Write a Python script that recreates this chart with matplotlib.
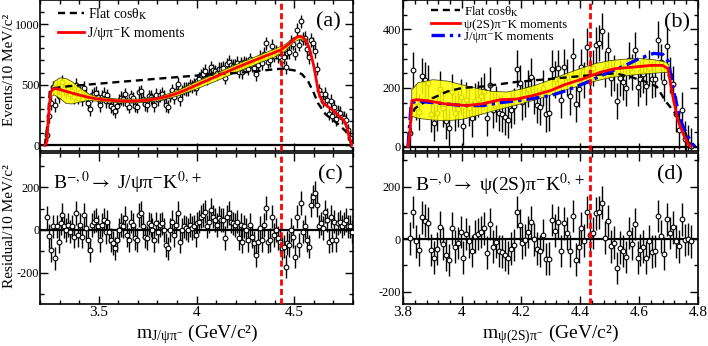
import numpy as np
import matplotlib
matplotlib.use("Agg")
import matplotlib.pyplot as plt
from matplotlib.ticker import MultipleLocator, FuncFormatter
from matplotlib.lines import Line2D

plt.rcParams['font.family'] = ['Liberation Serif', 'DejaVu Serif']
plt.rcParams['mathtext.fontset'] = 'stix'
plt.rcParams['axes.unicode_minus'] = False

# ---------------- data: J/psi pi- K (panels a, c) ----------------
x_a = np.round(3.235 + 0.01 * np.arange(157), 3)
data_a = [89,242,346,478,333,482,407,489,523,465,
          444,462,427,446,395,500,394,436,378,475,
          409,350,299,413,426,431,397,332,400,423,
          362,412,363,323,307,282,320,367,389,382,
          420,342,318,404,388,327,319,437,446,385,
          339,332,404,398,378,333,414,379,413,425,
          398,331,319,410,454,397,448,509,382,444,
          466,465,464,494,487,502,470,531,546,576,
          591,614,551,581,643,618,610,593,632,631,
          638,559,667,690,658,657,656,679,608,676,
          605,683,673,633,709,662,638,589,658,727,
          678,755,840,689,703,819,740,769,737,728,
          704,724,643,765,769,852,837,756,954,829,
          1022,878,885,794,726,868,840,777,632,453,
          421,368,425,374,260,365,244,315,214,277,
          269,231,229,210,124,64,0]
err_a = 55
res_c = [59,-28,-94,16,-133,16,-55,31,70,16,
         0,23,-8,16,-31,78,-23,23,-31,70,
         8,-47,-94,23,39,47,16,-47,23,47,
         -12,39,-8,-47,-62,-86,-47,0,23,16,
         55,-23,-47,39,23,-39,-47,70,78,16,
         -31,-39,31,23,0,-47,31,-8,23,31,
         0,-70,-86,0,39,-23,23,78,-55,0,
         16,8,0,23,8,16,-23,31,39,62,
         70,86,16,39,94,62,47,23,55,47,
         47,-39,62,78,39,31,23,39,-39,23,
         -55,16,0,-47,23,-31,-62,-117,-55,8,
         -47,23,102,-55,-47,62,-23,0,-39,-55,
         -86,-78,-172,-62,-70,0,-31,-125,62,-70,
         125,-8,16,-47,-78,117,156,172,117,16,
         31,8,86,47,-55,62,-47,39,-47,31,
         39,16,31,47,16,16,-8]
err_c = 55

red_a_x = [3.225,3.235,3.245,3.255,3.265,3.28,3.30,3.35,3.40,3.45,3.50,3.55,3.60,3.65,3.70,
           3.75,3.80,3.85,3.90,3.95,4.00,4.05,4.10,4.15,4.20,4.25,4.30,4.35,4.40,4.43,4.45,
           4.48,4.50,4.52,4.54,4.56,4.58,4.60,4.62,4.63,4.65,4.70,4.73,4.75,4.76,4.77,4.78,4.79,4.795]
red_a_y = [0,30,270,440,462,468,460,437,415,395,380,372,367,365,366,
           372,385,403,428,460,497,532,567,602,637,670,703,735,766,786,808,
           845,875,898,895,860,785,650,470,405,345,285,240,210,185,140,75,20,0]
flat_a_x = [3.225,3.24,3.25,3.27,3.30,3.35,3.42,3.50,3.60,3.70,3.80,3.90,4.00,4.10,4.20,
            4.30,4.40,4.44,4.50,4.54,4.57,4.60,4.62,4.66,4.70,4.73,4.765,4.78,4.795]
flat_a_y = [0,200,445,470,478,488,497,508,522,535,549,562,575,586,596,
            610,627,632,618,585,530,430,350,255,205,167,112,60,0]
band_a_x = [3.25,3.27,3.30,3.33,3.36,3.40,3.45,3.50,3.60,3.70,3.80,3.90,4.00,4.10,4.20,
            4.30,4.40,4.45,4.50,4.53,4.56,4.58]
band_a_hi = [430,530,560,555,530,480,425,400,385,385,400,455,530,600,670,
             735,800,835,895,910,880,800]
band_a_lo = [400,420,390,350,345,360,375,365,355,355,370,410,470,535,605,
             670,735,780,860,880,850,770]

# ---------------- data: psi(2S) pi- K (panels b, d) ----------------
x_b = np.round(3.825 + 0.01 * np.arange(96), 3)
data_b = [46,262,152,117,241,227,216,112,82,114,
          196,130,87,65,185,114,128,169,69,159,
          133,96,154,163,174,188,98,209,125,146,
          114,112,100,91,125,139,266,218,153,164,
          198,239,174,142,136,199,111,116,266,229,
          267,160,270,236,171,308,145,197,270,227,
          341,256,268,346,354,395,264,329,235,252,
          156,235,222,201,294,254,329,202,232,246,
          205,269,229,232,365,288,219,343,244,214,
          112,55,125,26,10,2]
err_b = 62
res_d = [3,104,-8,-42,83,70,60,-42,-70,-36,
         47,-17,-59,-80,41,-29,-14,28,-71,19,
         -8,-46,11,19,28,41,-51,57,-29,-10,
         -45,-48,-61,-70,-36,-23,104,54,-13,-4,
         28,66,-1,-36,-45,15,-76,-74,73,32,
         66,-45,60,22,-46,88,-78,-29,41,-6,
         104,15,24,98,102,139,6,69,-27,-13,
         -110,-32,-46,-68,24,-17,57,-71,-42,-29,
         -71,-8,-48,-45,88,11,-55,75,24,45,
         -8,-27,75,-4,0,-8]
err_d = 62

red_b_x = [3.817,3.823,3.83,3.845,3.88,3.94,4.015,4.07,4.13,4.185,4.24,4.30,4.35,4.41,
           4.47,4.52,4.58,4.64,4.68,4.698,4.715,4.732,4.75,4.766,4.777]
red_b_y = [0,40,157,160,157,146,140,146,160,162,174,191,212,231,
           254,266,271,277,277,266,169,89,43,9,0]
blue_b_x = [3.817,3.828,3.85,3.90,3.95,4.00,4.07,4.13,4.20,4.30,4.35,4.43,4.50,4.55,
            4.60,4.65,4.68,4.70,4.715,4.74,4.76,4.78,4.79]
blue_b_y = [0,150,155,150,145,140,140,150,158,174,190,222,255,275,
            300,318,315,290,200,90,45,10,0]
flat_b_x = [3.822,3.828,3.84,3.87,3.90,3.95,4.00,4.07,4.18,4.30,4.43,4.52,4.58,4.62,
            4.66,4.69,4.73,4.75,4.77,4.775]
flat_b_y = [0,100,130,150,165,188,200,205,220,231,243,250,235,222,
            205,155,105,68,10,0]
band_b_x = [3.828,3.85,3.90,3.95,4.00,4.05,4.10,4.15,4.20,4.25,4.30,4.35,4.40,4.45,
            4.50,4.55,4.60,4.65,4.69,4.70]
band_b_hi = [195,220,230,225,212,200,190,188,198,212,230,250,268,285,
             295,300,302,298,290,280]
band_b_lo = [105,98,92,90,95,108,122,135,148,162,178,195,210,225,
             237,243,248,252,255,255]

m_line = 4.433

# ---------------- figure ----------------
W, H = 708, 346
fig = plt.figure(figsize=(W / 100, H / 100), dpi=100)

def ax_at(x0, y0, x1, y1):
    return fig.add_axes([x0 / W, 1 - y1 / H, (x1 - x0) / W, (y1 - y0) / H])

axA = ax_at(40, 0, 353, 151)
axC = ax_at(40, 153, 353, 304)
axB = ax_at(403, 0, 698, 151)
axD = ax_at(403, 153, 698, 304)

def style(ax, xlim, ylim, xmaj, xmin, ymaj, ymin, xlabels, ypad):
    ax.set_xlim(*xlim)
    ax.set_ylim(*ylim)
    ax.xaxis.set_major_locator(MultipleLocator(xmaj))
    ax.xaxis.set_minor_locator(MultipleLocator(xmin))
    ax.yaxis.set_major_locator(MultipleLocator(ymaj))
    ax.yaxis.set_minor_locator(MultipleLocator(ymin))
    ax.tick_params(which='both', direction='in', top=True, right=True, width=1.0)
    ax.tick_params(axis='x', labelsize=11, pad=1.5)
    ax.tick_params(axis='y', labelsize=8.8, pad=ypad)
    ax.tick_params(which='major', length=6)
    ax.tick_params(which='minor', length=3)
    if not xlabels:
        ax.tick_params(axis='x', labelbottom=False)
    else:
        ax.xaxis.set_major_formatter(FuncFormatter(lambda v, p: f"{v:g}"))
    for s in ax.spines.values():
        s.set_linewidth(1.2)
    ax.axhline(0, color='black', lw=1.6, zorder=2)
    ax.axvline(m_line, color='#ff0000', lw=2.0, ls=(0, (2.2, 1.2)), zorder=6)

def points(ax, x, y, e):
    ax.errorbar(x, y, yerr=e, fmt='o', ms=3.4, mfc='white', mec='black', mew=0.8,
                ecolor='black', elinewidth=1.0, capsize=0, zorder=3)

style(axA, (3.2, 4.8), (-47, 1198), 0.5, 0.1, 500, 100, False, 0)
style(axC, (3.2, 4.8), (-347, 360), 0.5, 0.1, 200, 100, True, 0.5)
style(axB, (3.8, 4.8), (-15, 500), 0.2, 0.04, 200, 50, False, 1.5)
style(axD, (3.8, 4.8), (-247, 328), 0.2, 0.04, 200, 100, True, 1.5)

flat_ls = (0, (3, 2))
blue_ls = (0, (4, 1.5, 1, 1.5))
flat_label = r"Flat cos$\mathregular{\theta}_{\rm K}$"

# panel a
points(axA, x_a, data_a, err_a)
axA.fill_between(band_a_x, band_a_lo, band_a_hi, facecolor='#ffff00', edgecolor='#333300',
                 lw=0.6, alpha=0.85, zorder=4)
axA.plot(flat_a_x, flat_a_y, color='black', lw=1.7, ls=flat_ls, zorder=5)
axA.plot(red_a_x, red_a_y, color='#ff0000', lw=2.0, zorder=5)
hA = [Line2D([], [], color='black', lw=1.7, ls=flat_ls),
      Line2D([], [], color='#ff0000', lw=2.0)]
axA.legend(hA, [flat_label, "J/ψπ⁻K moments"],
           loc='upper left', bbox_to_anchor=(0.03, 1.015), frameon=False, fontsize=10,
           handlelength=1.9, handletextpad=0.3, labelspacing=0.35, borderpad=0.1)
axA.text(0.92, 0.855, "(a)", transform=axA.transAxes, ha='center', va='center', fontsize=16)

# panel b
points(axB, x_b, data_b, err_b)
axB.fill_between(band_b_x, band_b_lo, band_b_hi, facecolor='#ffff00', edgecolor='#333300',
                 lw=0.6, alpha=0.85, zorder=4)
axB.plot(flat_b_x, flat_b_y, color='black', lw=1.7, ls=flat_ls, zorder=5)
axB.plot(blue_b_x, blue_b_y, color='#0000ff', lw=2.4, ls=blue_ls, zorder=5)
axB.plot(red_b_x, red_b_y, color='#ff0000', lw=2.0, zorder=5)
hB = [Line2D([], [], color='black', lw=1.7, ls=flat_ls),
      Line2D([], [], color='#ff0000', lw=2.0),
      Line2D([], [], color='#0000ff', lw=2.4, ls=blue_ls)]
axB.legend(hB, [flat_label, "ψ(2S)π⁻K moments", "J/ψπ⁻K moments"],
           loc='upper left', bbox_to_anchor=(0.07, 1.025), frameon=False, fontsize=9.3,
           handlelength=2.2, handletextpad=0.3, labelspacing=0.0, borderpad=0.1)
axB.text(0.93, 0.85, "(b)", transform=axB.transAxes, ha='center', va='center', fontsize=16)

# panel c
points(axC, x_a, res_c, err_c)
axC.text(0.042, 0.80, r"B$^{-,0}$$\rightarrow$ J/ψπ$^{-}$K$^{0,+}$", transform=axC.transAxes,
         ha='left', va='center', fontsize=14)
axC.text(0.927, 0.855, "(c)", transform=axC.transAxes, ha='center', va='center', fontsize=16)

# panel d
points(axD, x_b, res_d, err_d)
axD.text(0.041, 0.79, r"B$^{-,0}$$\rightarrow$ ψ(2S)π$^{-}$K$^{0,+}$", transform=axD.transAxes,
         ha='left', va='center', fontsize=14)
axD.text(0.905, 0.855, "(d)", transform=axD.transAxes, ha='center', va='center', fontsize=16)

# axis titles
fig.text(9.5 / W, 1 - 70 / H, "Events/10 MeV/c²", rotation=90, ha='center', va='center',
         fontsize=11)
fig.text(9.5 / W, 1 - 226 / H, "Residual/10 MeV/c²", rotation=90, ha='center', va='center',
         fontsize=11)
fig.text(197 / W, 1 - 334 / H, r"m$_{\mathregular{J/ψπ^{-}}}$ (GeV/c²)", ha='center',
         va='center', fontsize=14)
fig.text(550 / W, 1 - 334 / H, r"m$_{\mathregular{ψ(2S)π^{-}}}$ (GeV/c²)", ha='center',
         va='center', fontsize=14)

fig.savefig("out.png", dpi=100)
